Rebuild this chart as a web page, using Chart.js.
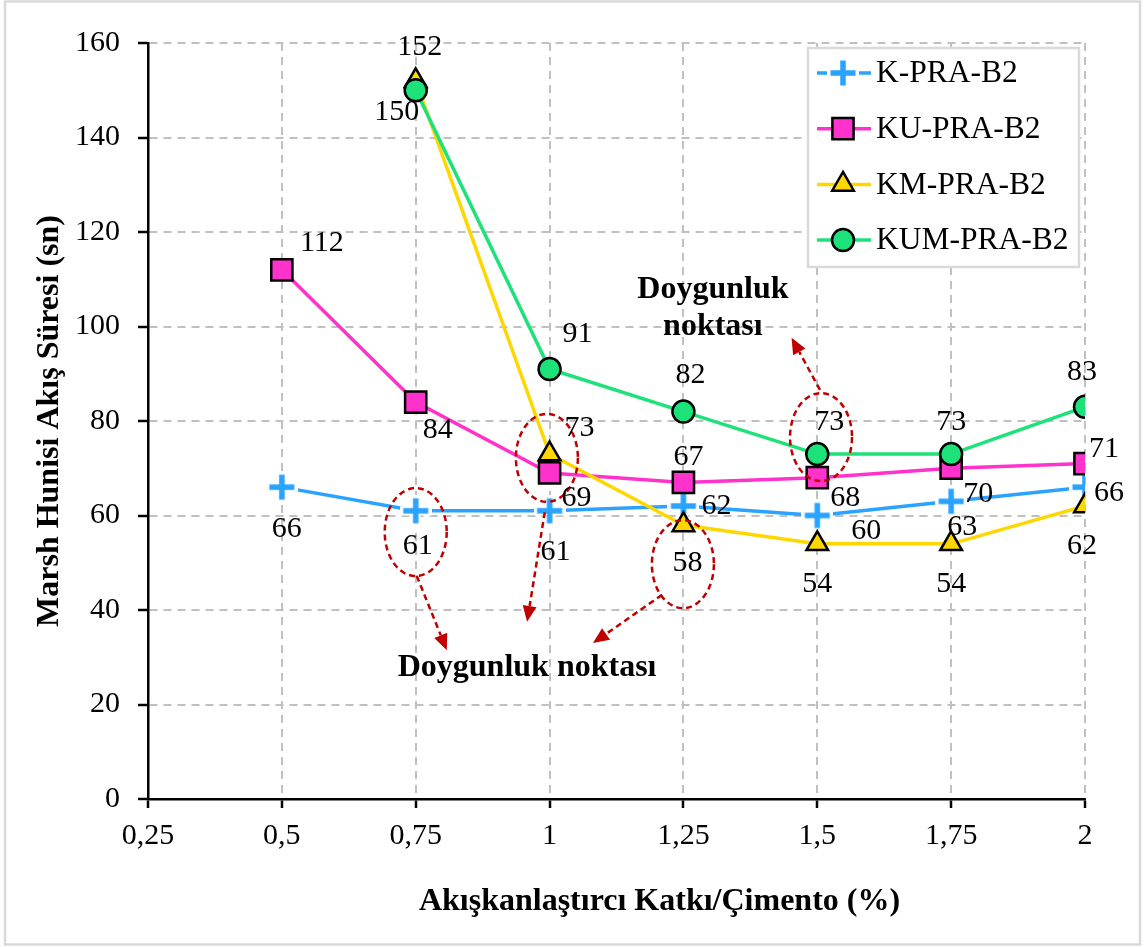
<!DOCTYPE html>
<html><head><meta charset="utf-8">
<script src="https://cdn.jsdelivr.net/npm/chart.js@4.4.0/dist/chart.umd.min.js"></script>
<style>html,body{margin:0;padding:0;background:#fff}canvas{display:block}</style>
</head><body>
<canvas id="c" width="1146" height="947"></canvas>
<script>
// ---- data ----
const xValues = [0.5, 0.75, 1, 1.25, 1.5, 1.75, 2];
const kPRA   = [66, 61, 61, 62, 60, 63, 66];
const kuPRA  = [112, 84, 69, 67, 68, 70, 71];
const kmX    = [0.75, 1, 1.25, 1.5, 1.75, 2];
const kmPRA  = [152, 73, 58, 54, 54, 62];
const kumX   = [0.75, 1, 1.25, 1.5, 1.75, 2];
const kumPRA = [150, 91, 82, 73, 73, 83];
const seriesNames = ['K-PRA-B2', 'KU-PRA-B2', 'KM-PRA-B2', 'KUM-PRA-B2'];
const xTickValues = [0.25, 0.5, 0.75, 1, 1.25, 1.5, 1.75, 2];
const xTickLabels = ['0,25', '0,5', '0,75', '1', '1,25', '1,5', '1,75', '2'];
const yTickValues = [0, 20, 40, 60, 80, 100, 120, 140, 160];
const xTitle = 'Akışkanlaştırcı Katkı/Çimento (%)';
const yTitle = 'Marsh Hunisi Akış Süresi (sn)';
const noteText = 'Doygunluk noktası';
const noteText2 = ['Doygunluk', 'noktası'];

// ---- label offsets (px, label centre relative to point) ----
const kOff   = [[5,42],[2,35],[6,41],[33,0],[49,16],[11,26],[24,6]];
const kuOff  = [[40,-27],[22,28],[27,25],[5,-25],[28,20],[27,26],[19,-14]];
const kmOff  = [[4,-34],[30,-26],[4,38],[0,40],[0,40],[-3,40]];
const kumOff = [[-19,22],[28,-35],[7,-36],[12,-32],[0,-32],[-3,-35]];

// ---- annotation geometry (data coords) ----
const ellipses = [ {x:0.75, y:56.5}, {x:0.995, y:72.2}, {x:1.249, y:49.7}, {x:1.507, y:76.6} ];
const arrows = [
  {x1:0.752, y1:47.2, x2:0.808, y2:31.5},
  {x1:0.991, y1:60.7, x2:0.958, y2:37.5},
  {x1:1.210, y1:43.2, x2:1.081, y2:33.0},
  {x1:1.505, y1:86.6, x2:1.452, y2:97.6}
];
const notePos = {x:0.958, y:27.7};
const note2Pos = {x:1.305, y:107.7};

const SERIF = '"Liberation Serif", "Times New Roman", serif';
const colors = { k:'#29A3FF', ku:'#FF33CC', km:'#FFD700', kum:'#1DE27A' };

function makeCross(color){
  const s = 32, c = document.createElement('canvas');
  c.width = s; c.height = s;
  const g = c.getContext('2d');
  g.strokeStyle = '#fff'; g.lineWidth = 9;
  g.beginPath(); g.moveTo(0,16); g.lineTo(32,16); g.moveTo(16,0); g.lineTo(16,32); g.stroke();
  g.strokeStyle = color; g.lineWidth = 5.5;
  g.beginPath(); g.moveTo(3.5,16); g.lineTo(28.5,16); g.moveTo(16,3.5); g.lineTo(16,28.5); g.stroke();
  return c;
}
const crossImg = makeCross(colors.k);

const pts = (xs, ys) => xs.map((x, i) => ({x, y: ys[i]}));

const datasets = [
  { label: seriesNames[0], data: pts(xValues, kPRA), borderColor: colors.k, backgroundColor: colors.k,
    pointStyle: crossImg, pointRadius: 12, order: 3, offs: kOff },
  { label: seriesNames[1], data: pts(xValues, kuPRA), borderColor: colors.ku, backgroundColor: colors.ku,
    pointStyle: 'rect', pointRadius: 15, order: 2, offs: kuOff },
  { label: seriesNames[2], data: pts(kmX, kmPRA), borderColor: colors.km, backgroundColor: colors.km,
    pointStyle: 'triangle', pointRadius: 12.5, order: 1, offs: kmOff },
  { label: seriesNames[3], data: pts(kumX, kumPRA), borderColor: colors.kum, backgroundColor: colors.kum,
    pointStyle: 'circle', pointRadius: 11, order: 0, offs: kumOff }
].map(d => Object.assign(d, {
  borderWidth: 3.5, tension: 0, fill: false,
  pointBackgroundColor: d.backgroundColor, pointBorderColor: '#000', pointBorderWidth: 2.5,
  pointHoverRadius: d.pointRadius
}));

const decorPlugin = {
  id: 'decor',
  beforeDraw(chart){
    const ctx = chart.ctx;
    ctx.save();
    ctx.fillStyle = '#fff';
    ctx.fillRect(0, 0, chart.width, chart.height);
    ctx.strokeStyle = '#d9d9d9'; ctx.lineWidth = 2.5;
    ctx.strokeRect(5, 1.5, 1135, 943);
    ctx.restore();
  },
  afterDatasetsDraw(chart){
    const ctx = chart.ctx, xs = chart.scales.x, ys = chart.scales.y;
    ctx.save();
    // ellipses
    ctx.strokeStyle = '#C00000'; ctx.lineWidth = 2.5; ctx.setLineDash([6,4]);
    ellipses.forEach(e => {
      ctx.beginPath();
      ctx.ellipse(xs.getPixelForValue(e.x), ys.getPixelForValue(e.y), 31, 44, 0, 0, Math.PI*2);
      ctx.stroke();
    });
    // arrows
    arrows.forEach(a => {
      const x1 = xs.getPixelForValue(a.x1), y1 = ys.getPixelForValue(a.y1);
      const x2 = xs.getPixelForValue(a.x2), y2 = ys.getPixelForValue(a.y2);
      const ang = Math.atan2(y2 - y1, x2 - x1), L = 16, W = 7;
      const bx = x2 - L*Math.cos(ang), by = y2 - L*Math.sin(ang);
      ctx.setLineDash([6,4]); ctx.strokeStyle = '#C00000'; ctx.lineWidth = 2.5;
      ctx.beginPath(); ctx.moveTo(x1, y1); ctx.lineTo(bx, by); ctx.stroke();
      ctx.setLineDash([]); ctx.fillStyle = '#C00000';
      ctx.beginPath(); ctx.moveTo(x2, y2);
      ctx.lineTo(bx + W*Math.sin(ang), by - W*Math.cos(ang));
      ctx.lineTo(bx - W*Math.sin(ang), by + W*Math.cos(ang));
      ctx.closePath(); ctx.fill();
    });
    ctx.setLineDash([]);
    // data labels
    ctx.fillStyle = '#000'; ctx.font = '30px ' + SERIF;
    ctx.textAlign = 'center'; ctx.textBaseline = 'middle';
    chart.data.datasets.forEach((ds, di) => {
      const meta = chart.getDatasetMeta(di);
      meta.data.forEach((el, i) => {
        const o = ds.offs[i];
        ctx.fillText(String(ds.data[i].y), el.x + o[0], el.y + o[1]);
      });
    });
    // notes
    ctx.font = 'bold 32px ' + SERIF;
    ctx.fillText(noteText, xs.getPixelForValue(notePos.x), ys.getPixelForValue(notePos.y));
    const nx = xs.getPixelForValue(note2Pos.x), ny = ys.getPixelForValue(note2Pos.y);
    ctx.fillText(noteText2[0], nx, ny);
    ctx.fillText(noteText2[1], nx, ny + 37);
    ctx.restore();
  },
  afterDraw(chart){
    const ctx = chart.ctx, ca = chart.chartArea;
    ctx.save();
    // axis titles
    ctx.fillStyle = '#000'; ctx.font = 'bold 32px ' + SERIF;
    ctx.textAlign = 'center'; ctx.textBaseline = 'middle';
    ctx.fillText(xTitle, (ca.left + ca.right)/2 + 43, 902);
    ctx.translate(50, (ca.top + ca.bottom)/2);
    ctx.rotate(-Math.PI/2);
    ctx.fillText(yTitle, 0, 0);
    ctx.restore();
    // legend
    ctx.save();
    const lx = 808, ly = 48, lw = 271, lh = 219;
    ctx.fillStyle = '#fff'; ctx.fillRect(lx, ly, lw, lh);
    ctx.strokeStyle = '#d9d9d9'; ctx.lineWidth = 2.5; ctx.strokeRect(lx, ly, lw, lh);
    chart.data.datasets.forEach((ds, i) => {
      const cy = 73 + i*55.7;
      ctx.strokeStyle = ds.borderColor; ctx.lineWidth = 3.5; ctx.setLineDash([]);
      ctx.beginPath(); ctx.moveTo(817, cy); ctx.lineTo(871, cy); ctx.stroke();
      ctx.fillStyle = ds.backgroundColor; ctx.strokeStyle = '#000'; ctx.lineWidth = 2.5;
      if (ds.pointStyle instanceof HTMLCanvasElement){
        ctx.drawImage(ds.pointStyle, 843 - 16, cy - 16);
      } else {
        Chart.helpers.drawPoint(ctx, {pointStyle: ds.pointStyle, rotation: 0, borderWidth: 2.5, radius: ds.pointRadius}, 843, cy);
      }
      ctx.fillStyle = '#000'; ctx.font = '31.5px ' + SERIF;
      ctx.textAlign = 'left'; ctx.textBaseline = 'middle';
      ctx.fillText(ds.label, 876, cy + 1);
    });
    ctx.restore();
  }
};

const tickFont = {family: SERIF, size: 30};
new Chart(document.getElementById('c'), {
  type: 'line',
  data: { datasets },
  plugins: [decorPlugin],
  options: {
    responsive: false, animation: false, devicePixelRatio: 1,
    layout: { padding: { top: 43, right: 61, left: 0, bottom: 0 } },
    plugins: { legend: { display: false }, tooltip: { enabled: false } },
    scales: {
      x: {
        type: 'linear', min: 0.25, max: 2,
        afterBuildTicks: s => { s.ticks = xTickValues.map(v => ({value: v})); },
        afterFit: s => { s.height = 148; },
        ticks: { callback: (v, i) => xTickLabels[i], font: tickFont, color: '#000', padding: 10, maxRotation: 0, autoSkip: false },
        grid: { color: '#c0c0c0', lineWidth: 2, tickLength: 9, tickColor: '#000', tickWidth: 2.5, tickBorderDash: [] },
        border: { color: '#000', width: 2.5, dash: [8, 6] }
      },
      y: {
        type: 'linear', min: 0, max: 160,
        afterBuildTicks: s => { s.ticks = yTickValues.map(v => ({value: v})); },
        afterFit: s => { s.width = 148; },
        ticks: { callback: v => String(v), font: tickFont, color: '#000', padding: 18 },
        grid: { color: '#c0c0c0', lineWidth: 2, tickLength: 10, tickColor: '#000', tickWidth: 2.5, tickBorderDash: [] },
        border: { color: '#000', width: 2.5, dash: [8, 6] }
      }
    }
  }
});
</script>
</body></html>
